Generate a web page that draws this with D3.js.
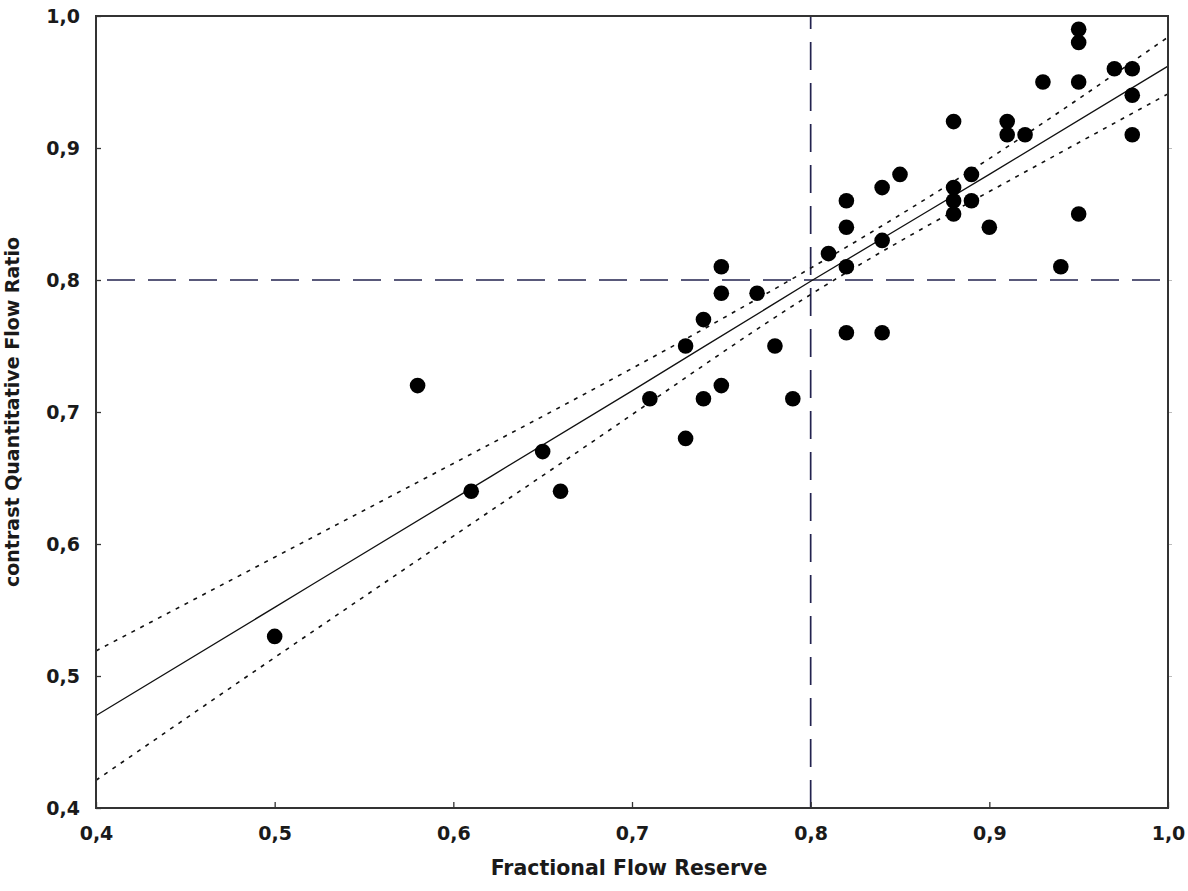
<!DOCTYPE html>
<html>
<head>
<meta charset="utf-8">
<script src="https://cdn.jsdelivr.net/npm/d3@7"></script>
<style>
  html, body { margin: 0; padding: 0; background: #fff; }
  svg { display: block; }
  text { font-family: "DejaVu Sans", Verdana, sans-serif; font-weight: bold; fill: #1a1a1a; }
</style>
</head>
<body>
<svg id="chart" width="1188" height="891"></svg>
<script>
// ---- Data ----
const ffr = [0.50,0.58,0.61,0.65,0.66,0.71,0.73,0.73,0.74,0.74,0.75,0.75,0.75,0.77,0.78,0.79,
             0.81,0.82,0.82,0.82,0.82,0.84,0.84,0.84,0.85,0.88,0.88,0.88,0.88,0.89,0.89,0.90,
             0.91,0.91,0.92,0.93,0.94,0.95,0.95,0.95,0.95,0.97,0.98,0.98,0.98];
const cqfr = [0.53,0.72,0.64,0.67,0.64,0.71,0.75,0.68,0.77,0.71,0.81,0.79,0.72,0.79,0.75,0.71,
              0.82,0.86,0.84,0.81,0.76,0.87,0.83,0.76,0.88,0.92,0.87,0.86,0.85,0.88,0.86,0.84,
              0.92,0.91,0.91,0.95,0.81,0.99,0.98,0.95,0.85,0.96,0.96,0.94,0.91];

// regression line and 95% confidence band, read at these x positions
const bandX     = [0.40, 0.50, 0.60, 0.70, 0.80, 0.90, 1.00];
const fitY      = [0.470, 0.552, 0.634, 0.716, 0.799, 0.880, 0.962];
const upperY    = [0.519, 0.590, 0.661, 0.733, 0.809, 0.892, 0.984];
const lowerY    = [0.421, 0.514, 0.606, 0.698, 0.789, 0.867, 0.941];

const cutoffX = 0.8;
const cutoffY = 0.8;

const xTicks = [0.4, 0.5, 0.6, 0.7, 0.8, 0.9, 1.0];
const yTicks = [0.4, 0.5, 0.6, 0.7, 0.8, 0.9, 1.0];
const xTitle = "Fractional Flow Reserve";
const yTitle = "contrast Quantitative Flow Ratio";

// ---- Layout ----
const svg = d3.select("#chart");
const pL = 96, pR = 1168, pT = 16, pB = 808;
const x = d3.scaleLinear().domain([0.4, 1.0]).range([pL, pR]);
const y = d3.scaleLinear().domain([0.4, 1.0]).range([pB, pT]);
const fmt = d => d3.format(".1f")(d).replace(".", ",");

// reference (cut-off) lines
const refColor = "#23234f";
svg.append("line")
  .attr("x1", x(0.4) + 11).attr("x2", pR).attr("y1", y(cutoffY)).attr("y2", y(cutoffY))
  .attr("stroke", refColor).attr("stroke-width", 1.7).attr("stroke-dasharray", "28,13");
svg.append("line")
  .attr("x1", x(cutoffX)).attr("x2", x(cutoffX)).attr("y1", pB).attr("y2", pT)
  .attr("stroke", refColor).attr("stroke-width", 1.7).attr("stroke-dasharray", "28,13");

// fit and confidence band
const band = bandX.map((v, i) => ({x: v, fit: fitY[i], up: upperY[i], lo: lowerY[i]}));
const lineOf = key => d3.line().x(d => x(d.x)).y(d => y(d[key])).curve(d3.curveNatural);
svg.append("path").datum(band).attr("d", lineOf("fit"))
  .attr("fill", "none").attr("stroke", "#111").attr("stroke-width", 1.3);
["up", "lo"].forEach(k => {
  svg.append("path").datum(band).attr("d", lineOf(k))
    .attr("fill", "none").attr("stroke", "#111").attr("stroke-width", 1.6)
    .attr("stroke-dasharray", "4,6");
});

// points
svg.append("g").selectAll("circle")
  .data(ffr.map((v, i) => [v, cqfr[i]]))
  .join("circle")
  .attr("cx", d => x(d[0])).attr("cy", d => y(d[1])).attr("r", 7.8)
  .attr("fill", "#000");

// axes (ticks)
const xAxis = d3.axisBottom(x).tickValues(xTicks).tickSizeInner(-6).tickSizeOuter(0).tickFormat(fmt);
const gx = svg.append("g").attr("transform", `translate(0,${pB})`).call(xAxis);
gx.select(".domain").remove();
gx.selectAll(".tick line").attr("stroke", "#333").attr("stroke-width", 1.3);
gx.selectAll(".tick text").attr("dy", null).attr("y", 32)
  .style("font-size", "19px").style("font-family", "DejaVu Sans").style("font-weight", "bold").attr("fill", "#1a1a1a");

const yAxis = d3.axisLeft(y).tickValues(yTicks).tickSizeInner(-5).tickSizeOuter(0).tickFormat(fmt);
const gy = svg.append("g").attr("transform", `translate(${pL},0)`).call(yAxis);
gy.select(".domain").remove();
gy.selectAll(".tick line").attr("stroke", "#333").attr("stroke-width", 1.3);
gy.selectAll(".tick text").attr("x", -16).attr("dy", "0.36em")
  .style("font-size", "19px").style("font-family", "DejaVu Sans").style("font-weight", "bold").attr("fill", "#1a1a1a");

const yAxisR = d3.axisRight(y).tickValues(yTicks.slice(1, -1)).tickSizeInner(4).tickSizeOuter(0).tickFormat("");
const gyr = svg.append("g").attr("transform", `translate(${pR},0)`).call(yAxisR);
gyr.select(".domain").remove();
gyr.selectAll(".tick line").attr("stroke", "#bbb");

// frame
svg.append("rect").attr("x", pL).attr("y", pT).attr("width", pR - pL).attr("height", pB - pT)
  .attr("fill", "none").attr("stroke", "#333").attr("stroke-width", 2);

// titles
svg.append("text").attr("x", 629).attr("y", 875).attr("text-anchor", "middle")
  .style("font-size", "20.5px").text(xTitle);
svg.append("text").attr("transform", `translate(19,${(pT + pB) / 2}) rotate(-90)`)
  .attr("text-anchor", "middle").style("font-size", "19px").text(yTitle);
</script>
</body>
</html>
